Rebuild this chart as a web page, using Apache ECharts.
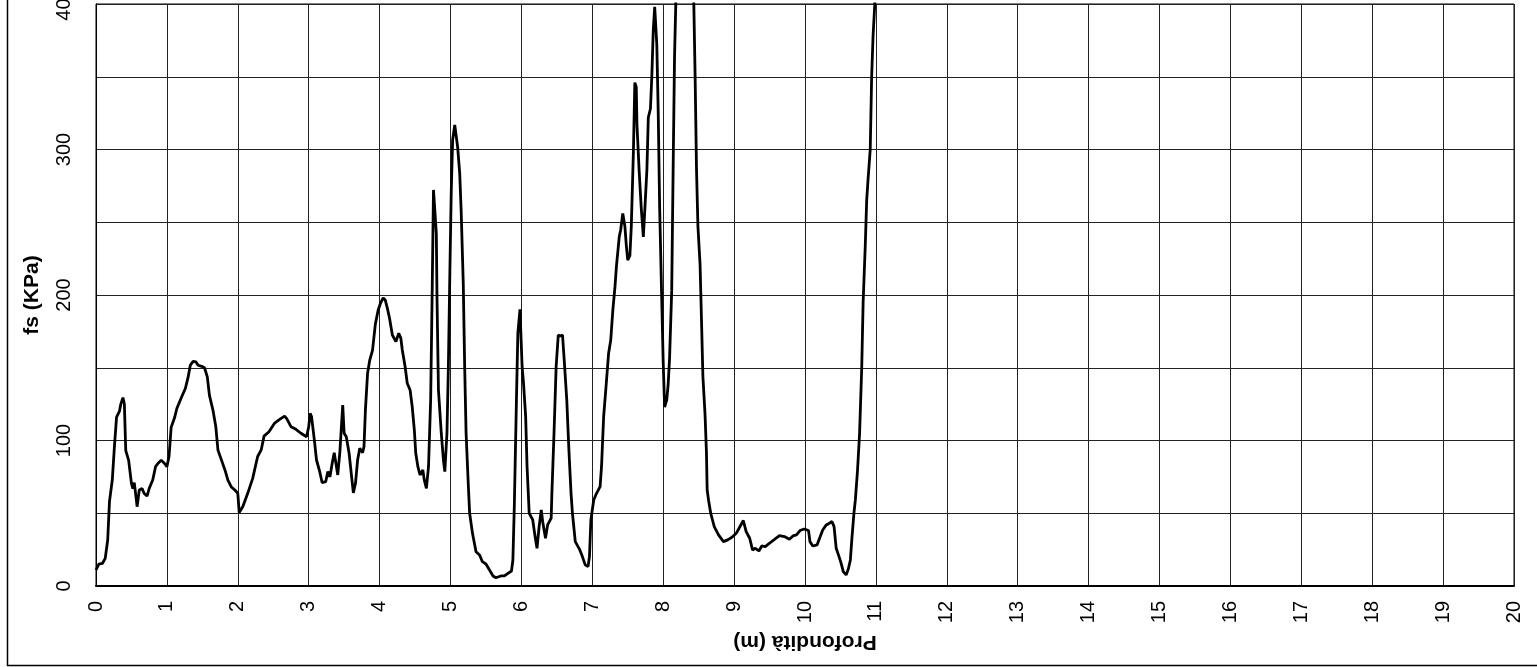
<!DOCTYPE html>
<html>
<head>
<meta charset="utf-8">
<script src="https://cdn.jsdelivr.net/npm/echarts@6/dist/echarts.min.js"></script>
<style>
html,body{margin:0;padding:0;background:#fff;}
#chart{width:1537px;height:667px;}
</style>
</head>
<body>
<div id="chart"></div>
<script>
const xAxisTitle = 'Profondità (m)';
const yAxisTitle = 'fs (KPa)';

const depths = [
0.00,0.04,0.09,0.13,0.165,0.19,0.23,0.26,0.29,0.33,0.35,0.38,0.40,0.42,0.46,0.50,0.52,0.54,0.58,0.61,
0.65,0.68,0.72,0.75,0.80,0.84,0.87,0.92,0.97,1.00,1.03,1.06,1.11,1.14,1.20,1.26,1.30,1.33,1.37,1.41,
1.44,1.49,1.53,1.57,1.60,1.65,1.69,1.72,1.77,1.82,1.86,1.91,1.97,2.00,2.02,2.07,2.14,2.21,2.28,2.33,
2.37,2.44,2.52,2.59,2.66,2.69,2.75,2.82,2.89,2.97,3.00,3.02,3.04,3.08,3.11,3.15,3.19,3.24,3.27,3.30,
3.33,3.36,3.38,3.41,3.44,3.48,3.50,3.53,3.57,3.61,3.63,3.66,3.69,3.72,3.76,3.78,3.80,3.83,3.86,3.90,
3.94,3.98,4.01,4.05,4.08,4.11,4.14,4.18,4.23,4.27,4.30,4.32,4.36,4.39,4.43,4.46,4.49,4.51,4.54,4.56,
4.57,4.61,4.63,4.66,4.69,4.72,4.74,4.76,4.78,4.80,4.81,4.83,4.87,4.90,4.92,4.95,4.97,4.99,5.01,5.03,
5.06,5.08,5.10,5.13,5.15,5.18,5.20,5.22,5.25,5.27,5.31,5.36,5.41,5.45,5.50,5.55,5.60,5.64,5.71,5.76,
5.81,5.86,5.88,5.90,5.93,5.95,5.98,5.99,6.01,6.03,6.06,6.08,6.11,6.16,6.19,6.22,6.25,6.28,6.30,6.34,
6.37,6.42,6.43,6.46,6.49,6.52,6.55,6.58,6.61,6.64,6.67,6.70,6.72,6.76,6.82,6.86,6.90,6.94,6.96,6.98,
7.02,7.06,7.11,7.13,7.16,7.19,7.23,7.26,7.29,7.32,7.34,7.38,7.40,7.43,7.46,7.48,7.50,7.53,7.55,7.58,
7.60,7.62,7.63,7.66,7.69,7.72,7.74,7.77,7.79,7.82,7.84,7.86,7.88,7.91,7.93,7.95,7.98,8.00,8.02,8.05,
8.07,8.09,8.12,8.14,8.16,8.18,8.30,8.43,8.45,8.47,8.49,8.52,8.54,8.56,8.59,8.61,8.62,8.64,8.67,8.72,
8.78,8.85,8.91,8.97,9.03,9.07,9.13,9.17,9.22,9.26,9.30,9.35,9.39,9.44,9.50,9.57,9.64,9.71,9.78,9.83,
9.88,9.93,9.99,10.05,10.07,10.11,10.17,10.20,10.25,10.30,10.33,10.38,10.41,10.44,10.48,10.51,10.54,10.58,10.61,10.64,
10.66,10.69,10.71,10.74,10.77,10.80,10.82,10.85,10.87,10.89,10.92,10.94,10.96,10.99,11.00
];

const fsValues = [
11,15,15.5,19,31.6,58,73,96,116,120,125,129.5,125,93,86.5,70.5,67,71,54.5,66,
67,63.6,61.8,67,72.8,82,84,86.5,84,82,89,109,116,122,129,135.7,143.7,151.7,154.4,154,
151.7,151,150,143.7,131,120.8,109.4,93.4,86.5,79.6,72.8,68,65.4,63.6,50.5,54.5,63.7,74,89,93.5,
103,106,112,114.5,116.8,115,109.5,107.7,105,102.6,109.5,118.7,116.4,100.3,86.6,79.7,71,71.7,78.6,75,
84,91.6,91.2,76.3,92.3,124.4,105,102.6,91.2,72.9,64,70.6,86.6,94.6,91.6,95.8,121,146,155,162,
180,189.7,194,198,196.5,190.8,184,172.5,168,173.7,170.2,162.2,150.7,139.3,134.7,123.3,107.2,91.2,82,80.9,
76.3,79.7,72.9,67.1,82,127.8,196.6,272.2,272.2,242.4,196.6,134.7,105,86.6,78.6,105,150.7,212.6,270,306.5,
316.9,315.7,302,283.6,258.4,208,150.7,105,70.6,50,36.2,23.6,21.3,16.7,15.1,11,6.9,5.7,6.9,6.9,
8.7,10.3,17.9,54.6,127.8,173.7,190.2,189.7,150.7,139.3,116.4,82,50,45.4,35,25.9,40.8,52.3,44.3,32.8,
42,46.6,63.7,105,150.7,172.5,171.8,172.5,150.7,127.8,93.5,63.7,50,30.5,25.2,20.2,14.5,13.3,20.2,45.4,
59.1,63.7,68.3,82,116.4,134.7,160,169,189.7,205.7,219.5,240,244.7,256,247,234,224,227,247,299,
346,343,317,286,260,240,258,286,322,328,351,382,398,372,325,260,195.5,154,123,128,
138.6,156.7,203,286,364,405,470,405,351,286,247,221,183,144,118,92,66,59,50,40.8,
35.1,30.5,31.7,33.5,36.2,39.7,45,37.4,32.8,24.8,25.9,24.1,27.5,27.1,29.4,32.1,34.6,34,32.1,34.4,
35.1,38.1,39.2,38.1,30.5,27.5,28.2,32.1,38.5,42,42.7,44.3,40.8,25.9,20.2,15.6,9.9,7.6,11.5,17.9,
31.7,50,59,79,105,150,195,234,265,280,300,350,378,405,420
];

const xMin = 0, xMax = 20, xStep = 1;
const yMin = 0, yMax = 400, yStep = 50, yLabelStep = 100;

const seriesData = depths.map((d, i) => [d, fsValues[i]]);

const chart = echarts.init(document.getElementById('chart'), null, {renderer: 'canvas'});
const fontFamily = 'Arial, "Liberation Sans", Helvetica, sans-serif';

chart.setOption({
  animation: false,
  backgroundColor: '#fff',
  grid: {
    left: 96, right: 23, top: 4, bottom: 81,
    containLabel: false, outerBoundsMode: 'none',
    show: true, borderColor: '#000', borderWidth: 1, backgroundColor: 'transparent'
  },
  xAxis: {
    type: 'value', min: xMin, max: xMax, interval: xStep,
    name: xAxisTitle, nameLocation: 'middle', nameGap: 43, nameRotate: 180,
    nameTextStyle: {fontFamily, fontSize: 21, fontWeight: 'bold', color: '#000'},
    axisLine: {show: true, onZero: false, lineStyle: {color: '#000', width: 2}},
    axisTick: {show: false},
    axisLabel: {rotate: 90, margin: 15, fontFamily, fontSize: 20, color: '#000'},
    splitLine: {show: true, lineStyle: {color: '#222', width: 1}}
  },
  yAxis: {
    type: 'value', min: yMin, max: yMax, interval: yStep,
    name: yAxisTitle, nameLocation: 'middle', nameGap: 53, nameRotate: 90,
    nameTextStyle: {fontFamily, fontSize: 21, fontWeight: 'bold', color: '#000'},
    axisLine: {show: true, lineStyle: {color: '#000', width: 1}},
    axisTick: {show: false},
    axisLabel: {
      rotate: 90, margin: 22, fontFamily, fontSize: 20, color: '#000',
      formatter: v => (v % yLabelStep === 0 ? String(v) : '')
    },
    splitLine: {show: true, lineStyle: {color: '#222', width: 1}}
  },
  graphic: [{
    type: 'rect', silent: true, z: -1,
    shape: {x: 7.5, y: -10, width: 1545, height: 675.5},
    style: {fill: 'transparent', stroke: '#000', lineWidth: 1.5}
  }],
  series: [{
    type: 'line', data: seriesData, showSymbol: false, symbol: 'none',
    clip: true, smooth: false,
    lineStyle: {color: '#000', width: 2.8}
  }]
});
</script>
</body>
</html>
